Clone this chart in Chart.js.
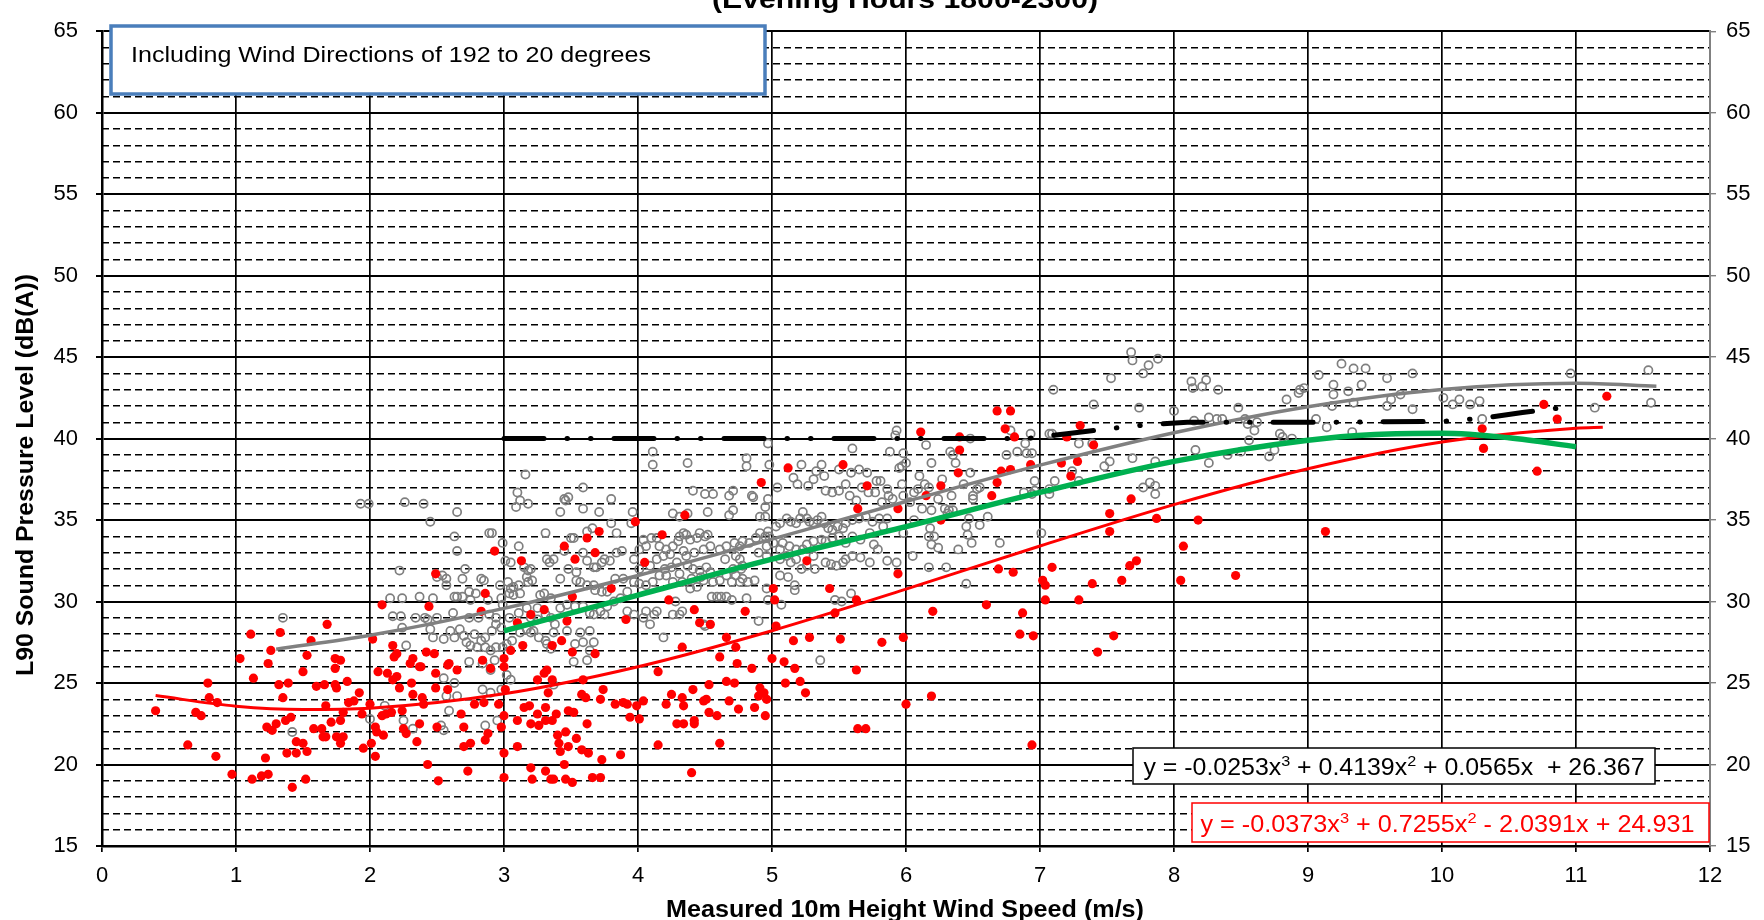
<!DOCTYPE html>
<html>
<head>
<meta charset="utf-8">
<title>L90 vs wind speed</title>
<script src="https://cdn.jsdelivr.net/npm/chart.js@4.4.1/dist/chart.umd.min.js"></script>
<style>
    html, body { margin: 0; padding: 0; background: #ffffff; }
    #wrap { width: 1764px; height: 920px; }
</style>
</head>
<body>
<div id="wrap"><canvas id="noiseChart" width="1764" height="920"></canvas></div>
<script>
// axis ranges
const xRange = [0, 12];
const yRange = [15, 65];

// text
const chartTitle = "(Evening Hours 1800-2300)";
const infoText = "Including Wind Directions of 192 to 20 degrees";
const xTitle = "Measured 10m Height Wind Speed (m/s)";
const yTitle = "L90 Sound Pressure Level (dB(A))";
const greyEquation = [["y = -0.0253x", false], ["3", true], [" + 0.4139x", false], ["2", true], [" + 0.0565x  + 26.367", false]];
const redEquation = [["y = -0.0373x", false], ["3", true], [" + 0.7255x", false], ["2", true], [" - 2.0391x + 24.931", false]];

// measured points, open grey circles [wind speed, L90]
const greyObs = [
    [1.93,36.0],[1.99,36.0],[2.26,36.1],[2.40,36.0],[2.45,34.9],[2.22,31.9],[2.15,30.2],[2.24,30.2],[2.37,30.3],[2.47,30.2],
    [1.35,29.0],[2.17,29.1],[2.23,29.1],[2.34,29.0],[2.41,29.0],[2.50,29.0],[2.24,28.4],[2.45,28.3],[2.47,27.8],[2.27,27.3],
    [2.50,31.5],[2.11,23.6],[2.00,22.8],[2.25,22.7],[2.32,22.2],[1.42,22.0],
    [2.65,35.5],[3.16,37.8],[3.10,36.7],[3.12,36.2],[3.09,35.8],[3.18,36.0],[3.59,37.0],[3.42,35.5],[3.45,36.3],[3.48,36.4],
    [3.46,36.2],[3.59,35.7],[3.71,35.5],[3.80,36.3],[3.96,35.5],[3.80,34.8],[3.95,34.8],
    [2.63,34.0],[2.89,34.2],[2.91,34.2],[2.65,33.1],[2.99,33.6],[3.11,33.4],[3.31,34.2],[3.50,33.9],[3.52,33.9],[3.45,33.1],
    [3.37,32.6],[3.32,32.6],[3.34,32.4],[3.05,32.4],[3.01,32.5],[2.71,32.0],[2.54,31.6],[2.57,31.4],[2.57,31.0],[2.69,31.4],
    [2.83,31.4],[2.85,31.3],[2.97,31.0],[3.03,31.2],[3.05,30.8],[3.07,30.9],[3.11,31.0],[3.12,30.5],[3.17,31.5],[3.18,31.2],
    [3.21,31.3],[3.18,31.9],[3.20,32.0],[3.15,32.1],[3.27,30.4],[3.30,30.5],[3.42,31.4],[3.48,32.0],[3.54,31.8],[3.59,33.0],
    [3.62,32.5],[3.67,32.1],[3.69,32.1],[3.73,32.4],[3.75,32.6],[3.79,32.5],[3.84,33.0],[3.88,33.1],[3.97,32.6],[3.84,34.2],
    [3.62,34.3],[3.66,34.5],
    [2.63,30.3],[2.65,30.3],[2.69,30.3],[2.74,30.6],[2.75,30.1],[2.79,30.5],[2.88,30.1],[2.98,30.2],[2.99,29.8],[3.04,30.5],
    [3.07,30.4],[3.54,31.3],[3.57,31.2],[3.62,31.0],[3.67,31.0],[3.68,30.7],[3.73,30.6],[3.77,30.6],[3.83,31.4],[3.89,31.4],
    [3.92,30.6],[3.97,31.2],
    [2.62,29.3],[2.74,29.0],[2.81,29.0],[2.89,29.2],[2.94,29.0],[2.94,28.6],[2.98,28.4],[2.91,28.2],[2.86,27.8],[2.83,27.6],
    [2.78,28.0],[2.70,27.9],[2.67,28.3],[2.60,28.2],[2.55,27.7],[2.43,28.9],[2.63,27.8],[2.72,27.5],[2.75,27.3],[2.80,27.2],
    [2.86,27.2],[2.90,27.0],[2.94,27.2],[2.99,27.2],[3.02,27.4],[3.06,27.6],[3.12,28.1],[3.17,28.3],[3.20,28.1],[3.22,28.2],
    [3.26,27.8],[3.31,27.6],[3.32,27.4],[3.37,28.1],[3.38,28.6],[3.35,29.0],[3.31,29.2],[3.25,28.9],[3.20,29.0],[3.17,29.6],
    [3.11,29.3],[3.04,29.0],[3.25,29.6],[3.35,30.2],[3.42,29.6],[3.47,29.8],[3.53,29.7],[3.59,29.7],[3.64,29.3],[3.67,29.2],
    [3.72,29.4],[3.75,29.2],[3.77,29.7],[3.82,30.0],[3.87,30.2],[3.92,29.4],[3.97,29.2],[3.47,28.2],[3.53,27.4],[3.59,27.5],
    [3.67,27.5],[3.64,27.0],[3.62,26.4],[3.52,26.3],[3.57,28.1],[3.64,28.2],[3.35,27.1],[2.74,26.3],[2.84,26.2],[2.93,26.4],
    [2.90,25.8],[3.02,25.5],[3.05,25.2],[2.55,25.3],[2.63,25.0],[2.57,24.2],[2.65,24.2],[2.84,24.6],[2.90,24.4],[2.98,24.6],
    [2.59,23.3],[2.53,22.4],[2.55,22.1],[2.86,22.4],[2.95,22.7],[3.37,24.9],
    [4.11,39.2],[4.11,38.4],[4.37,38.5],[4.41,36.8],[4.50,36.6],[4.56,36.6],[4.52,35.5],[4.26,35.4],[4.31,35.2],[4.37,35.4],
    [4.68,36.5],[4.71,36.8],[4.68,35.3],[4.71,35.6],[4.81,38.8],[4.81,38.3],[4.85,36.5],[4.86,36.4],[4.97,39.7],[4.98,38.4],
    [4.97,36.3],[4.95,35.8],[4.91,35.2],[4.95,35.2],[5.04,37.0],[5.16,37.6],[5.19,37.2],[5.22,38.4],[5.27,37.1],[5.31,37.5],
    [5.33,38.0],[5.37,38.4],[5.39,37.7],[5.40,36.8],[5.45,36.7],[5.50,36.8],[5.50,38.1],[5.55,37.2],[5.59,37.9],[5.60,39.4],
    [5.65,38.1],[5.71,37.9],[5.78,37.4],[5.72,36.7],[5.77,36.7],[5.63,36.2],[5.58,36.5],[5.67,37.0],
    [4.01,33.2],[4.06,33.4],[4.04,33.8],[4.10,33.9],[4.14,33.9],[4.16,33.4],[4.21,33.2],[4.19,32.8],[4.24,32.9],[4.26,33.4],
    [4.30,33.7],[4.31,34.0],[4.34,34.2],[4.36,34.1],[4.39,33.8],[4.44,33.9],[4.46,34.2],[4.50,34.0],[4.52,34.1],[4.54,33.4],
    [4.49,33.2],[4.42,33.0],[4.36,32.8],[4.34,33.1],[4.29,32.4],[4.25,32.1],[4.20,32.0],[4.16,31.6],[4.11,31.2],[4.06,31.0],
    [4.01,31.1],[4.01,32.0],[4.09,32.2],[4.14,32.6],[4.37,32.2],[4.41,32.0],[4.46,31.9],[4.51,32.1],[4.54,31.8],[4.47,31.5],
    [4.40,31.4],[4.33,31.2],[4.26,31.2],[4.21,31.6],[4.31,31.7],[4.39,30.8],[4.44,30.9],[4.49,31.3],[4.56,31.2],[4.61,31.3],
    [4.66,31.6],[4.70,31.2],[4.73,31.6],[4.76,31.2],[4.78,31.4],[4.82,31.2],[4.87,31.3],[4.77,32.0],[4.71,32.0],[4.78,32.2],
    [4.76,32.6],[4.73,32.8],[4.65,32.6],[4.61,33.2],[4.66,33.4],[4.72,33.6],[4.76,33.4],[4.78,33.7],[4.83,33.6],[4.88,33.9],
    [4.91,34.2],[4.95,34.0],[4.97,34.3],[4.98,34.0],[5.03,34.6],[5.06,34.8],[5.11,35.1],[5.14,34.9],[5.18,34.8],[5.21,35.1],
    [5.23,35.5],[5.26,35.1],[5.28,34.9],[5.31,34.8],[5.34,35.0],[5.37,35.2],[5.39,34.8],[5.42,34.5],[5.45,34.4],[5.49,34.6],
    [5.53,34.5],[5.55,34.8],[5.60,35.0],[5.65,35.1],[5.70,35.2],[5.75,34.9],[5.80,35.1],[5.73,34.2],[5.66,33.8],[5.60,34.0],
    [5.55,33.6],[5.50,34.0],[5.45,33.9],[5.40,33.7],[5.37,33.8],[5.31,33.7],[5.26,33.5],[5.23,33.2],[5.18,33.2],[5.13,33.4],
    [5.08,33.6],[5.06,33.2],[5.01,33.6],[4.96,33.4],[4.90,33.0],[4.96,32.8],[5.06,32.6],[5.11,32.8],[5.14,32.4],[5.18,32.6],
    [5.22,32.0],[5.26,32.2],[5.31,32.8],[5.32,32.0],[5.40,32.4],[5.44,32.3],[5.48,32.2],[5.53,32.4],[5.55,32.6],[5.60,32.8],
    [5.66,32.7],[5.73,32.4],[5.76,33.5],[5.79,33.2],[5.06,31.6],[5.12,31.5],[5.17,31.0],[5.17,30.7],[4.96,30.8],[4.97,30.1],
    [4.59,30.3],[4.62,30.3],[4.66,30.3],[4.70,30.1],[4.55,30.3],[4.28,30.0],[4.33,29.4],[4.31,29.2],[4.26,29.2],[4.14,29.4],
    [4.12,29.2],[4.06,29.4],[4.04,29.0],[4.09,28.6],[4.19,27.8],[4.50,28.5],[4.49,28.6],[4.81,30.2],[5.07,29.8],[5.47,30.1],
    [5.52,30.0],[5.59,30.5],[4.90,28.8],[5.36,26.4],
    [5.92,40.2],[5.93,40.5],[5.88,39.2],[5.98,39.1],[5.95,38.2],[5.97,38.3],[6.00,38.5],[6.15,39.6],[6.19,38.5],[6.37,38.5],
    [6.33,39.2],[6.35,39.0],[6.48,40.0],[6.48,37.9],[6.27,37.5],[6.10,37.7],[6.14,37.2],[6.17,37.0],[6.09,36.9],[5.97,37.2],
    [5.98,36.5],[5.86,36.9],[5.87,36.5],[5.90,36.3],[5.82,36.1],[5.81,37.4],[6.06,36.7],[6.03,36.1],[6.12,35.7],[6.19,35.6],
    [6.24,36.3],[6.34,36.5],[6.43,37.2],[6.50,36.5],[6.53,36.9],[6.55,37.0],[6.50,36.3],[6.29,35.7],[6.32,35.6],[6.31,35.4],
    [6.35,35.6],[6.47,35.1],[6.45,34.6],[6.55,34.7],[6.61,35.2],[5.86,35.1],[5.83,34.6],[5.98,34.2],[6.06,35.0],[6.18,34.5],
    [6.21,34.0],[6.19,33.5],[6.24,33.3],[6.17,34.0],[6.46,34.1],[6.49,33.6],[6.39,33.2],[6.05,32.8],[5.86,32.5],[5.93,32.4],
    [6.17,32.1],[6.30,32.1],[6.45,31.1],[6.70,33.6],[7.01,34.2],[6.75,39.0],[6.83,39.2],[6.90,39.1],[6.94,39.1],[6.89,39.7],
    [6.93,40.3],[6.78,40.5],[6.96,37.4],[6.88,36.7],[6.94,36.6],[6.96,36.8],[7.07,40.3],[7.09,40.3],[7.10,43.0],[7.11,37.4],
    [7.07,36.9],[7.07,36.6],[7.29,39.7],[7.24,38.0],[7.29,37.4],[7.39,39.7],[7.40,42.1],[7.48,38.3],[7.52,38.6],[7.53,43.7],
    [7.69,38.8],[7.68,45.3],[7.69,44.8],[7.77,44.0],[7.81,44.5],[7.88,44.9],[7.74,41.9],[7.86,38.6],[7.82,37.3],[7.77,37.0],
    [7.86,37.1],[7.86,36.6],[8.00,41.7],[8.13,43.5],[8.14,43.1],[8.15,41.1],[8.16,39.3],
    [8.21,43.2],[8.24,43.6],[8.33,43.0],[8.48,41.9],[8.26,41.3],[8.32,41.2],[8.36,41.2],[8.53,41.2],[8.55,40.9],[8.62,41.0],
    [8.60,40.5],[8.56,39.9],[8.50,39.2],[8.26,38.5],[8.40,39.0],[8.71,38.9],[8.75,39.3],[8.79,40.3],[8.81,40.1],[8.88,40.0],
    [8.84,42.4],[8.93,42.8],[8.94,43.0],[8.97,43.1],[9.08,43.9],[9.06,41.2],[9.14,40.7],[9.19,43.3],[9.19,42.7],[9.25,44.6],
    [9.30,42.9],[9.34,44.3],[9.34,42.2],[9.40,43.3],[9.43,44.3],[9.33,40.4],[9.18,42.0],[9.59,43.7],[9.59,42.0],[9.62,42.4],
    [9.69,42.7],[9.78,44.0],[9.78,41.8],[10.01,42.5],[10.08,42.1],[10.13,42.4],[10.21,42.1],[10.28,42.3],[10.30,41.2],
    [10.96,44.0],[11.14,41.9],[11.54,44.2],[11.56,42.2]
];

// measured points, filled red dots [wind speed, L90]
const redObs = [
    [0.40,23.3],[0.64,21.2],[0.70,23.2],[0.74,23.0],[0.79,25.0],[0.80,24.1],[0.85,20.5],[0.86,23.8],[0.97,19.4],[1.03,26.5],
    [1.11,28.0],[1.13,25.3],[1.12,19.1],[1.19,19.3],[1.22,20.4],[1.24,19.4],[1.24,26.2],[1.26,27.0],[1.23,22.3],[1.27,22.1],
    [1.30,22.5],[1.32,24.9],[1.33,28.1],[1.35,24.1],[1.39,25.0],[1.37,22.7],[1.41,22.9],[1.38,20.7],[1.42,18.6],[1.45,20.7],
    [1.45,21.4],[1.50,21.3],[1.50,25.7],[1.52,19.1],[1.53,26.7],[1.53,20.8],[1.56,27.6],[1.58,22.2],[1.60,24.8],[1.64,22.2],
    [1.65,21.7],[1.67,21.7],[1.66,24.9],[1.67,23.6],[1.68,28.6],[1.71,22.6],[1.74,24.9],[1.74,26.5],[1.75,24.7],[1.78,26.4],
    [1.74,25.9],[1.75,21.7],[1.78,21.3],[1.78,22.7],[1.80,21.7],[1.80,23.2],[1.83,25.1],[1.84,23.8],[1.88,23.9],[1.92,24.4],
    [1.94,23.1],[1.95,21.0],[2.01,21.3],[2.00,23.7],[2.02,27.7],[2.04,20.5],[2.04,22.3],[2.05,22.0],[2.06,25.7],[2.09,29.8],
    [2.10,21.8],[2.09,23.0],[2.12,23.1],[2.13,25.6],[2.16,23.2],[2.17,27.3],[2.17,25.2],[2.18,26.6],[2.20,26.8],[2.20,25.4],
    [2.22,24.7],[2.24,23.3],[2.25,22.2],[2.27,21.9],[2.30,26.2],[2.32,26.5],[2.31,25.0],[2.32,24.3],[2.35,21.4],[2.37,22.5],
    [2.37,26.0],[2.39,24.1],[2.40,23.7],[2.42,26.9],[2.44,29.7],[2.43,20.0],[2.48,26.8],[2.49,31.7],[2.49,25.6],[2.51,19.0],
    [2.50,22.3],[2.49,24.7],
    [3.13,32.5],[2.93,33.1],[2.86,30.5],[2.83,29.4],[3.10,28.7],[3.20,29.2],[3.30,29.5],[3.53,32.6],[3.45,33.4],[3.62,33.9],
    [3.71,34.3],[3.68,33.0],[3.98,34.9],[3.80,30.8],[3.51,30.3],[3.91,28.9],[3.47,28.8],[3.43,27.6],[3.51,26.9],[3.68,26.8],
    [3.36,27.3],[3.14,27.3],[3.05,27.0],[3.00,26.5],[2.38,26.0],[2.58,26.1],[2.65,25.8],[2.59,26.2],[2.84,26.4],[2.90,25.9],
    [3.00,26.0],[3.25,25.2],[3.30,25.6],[3.32,25.8],[3.36,25.2],[3.33,24.4],[3.59,25.2],[3.58,24.3],[3.61,24.1],[3.74,24.6],
    [3.72,24.0],[3.83,23.7],[3.89,23.8],[3.92,23.7],[3.99,23.6],[3.94,22.9],[2.58,24.6],[2.78,23.7],[2.68,23.1],[2.85,23.8],
    [2.96,23.7],[3.01,24.6],[3.10,22.7],[3.15,23.5],[3.19,23.6],[3.25,23.1],[3.20,22.5],[3.26,22.4],[3.31,22.7],[3.36,22.7],
    [3.39,23.1],[3.31,23.5],[3.48,23.3],[3.52,23.2],[3.62,22.5],[3.46,22.0],[3.54,21.6],[3.40,21.8],[3.41,21.3],[3.48,21.1],
    [3.58,20.9],[3.63,20.7],[3.73,20.3],[3.87,20.6],[3.45,20.0],[3.42,20.8],[3.00,20.7],[3.00,23.0],[3.10,21.1],[2.98,22.3],
    [2.88,21.9],[2.86,21.5],[2.70,22.3],[2.75,21.3],[2.70,21.1],[2.73,19.6],[3.00,19.2],[3.20,19.8],[3.21,19.1],[3.31,19.6],
    [3.35,19.1],[3.37,19.1],[3.46,19.1],[3.51,18.9],[3.66,19.2],[3.72,19.2],
    [4.18,34.1],[4.35,35.3],[4.05,32.4],[4.92,37.3],[5.12,38.2],[5.53,38.4],[5.71,37.1],[5.64,35.7],[5.26,32.5],[5.43,30.8],
    [5.63,30.1],[5.01,30.8],[5.02,30.1],[4.80,29.4],[4.23,30.1],[4.42,29.5],[4.46,28.7],[4.54,28.6],[4.66,27.8],[4.73,27.2],
    [4.33,27.2],[4.61,26.6],[4.74,26.2],[4.85,25.9],[5.00,26.5],[5.09,26.3],[5.17,25.9],[5.03,28.5],[5.16,27.6],[5.28,27.8],
    [5.51,27.7],[5.47,29.3],[5.63,25.8],[4.15,25.7],[5.10,25.0],[5.21,25.1],[5.25,24.4],[4.53,24.9],[4.66,25.1],[4.72,25.0],
    [4.41,24.6],[4.33,24.1],[4.25,24.3],[4.21,23.7],[4.04,23.9],[4.01,22.8],[4.34,23.6],[4.49,23.9],[4.51,24.0],[4.68,23.9],
    [4.75,23.4],[4.87,23.5],[4.91,24.7],[4.94,24.4],[4.96,24.0],[4.90,24.2],[4.95,23.0],[4.53,23.2],[4.59,23.0],[4.29,22.5],
    [4.34,22.5],[4.42,22.7],[4.42,22.5],[4.61,21.3],[4.15,21.2],[4.40,19.5],[5.64,22.2],[5.70,22.2],
    [6.11,40.4],[6.40,40.1],[6.40,39.3],[6.39,37.9],[6.26,37.1],[6.15,36.5],[5.94,35.7],[6.26,35.0],[6.68,41.7],[6.78,41.7],
    [6.74,40.6],[6.81,40.1],[6.93,38.4],[6.71,38.0],[6.78,38.1],[6.68,37.3],[6.64,36.5],[7.30,40.8],[7.20,40.1],[7.40,39.6],
    [7.16,38.5],[7.28,38.6],[7.23,37.7],[7.52,35.4],[7.52,34.3],[7.68,36.3],[7.87,35.1],[5.94,31.7],[6.20,29.4],[5.98,27.8],
    [5.82,27.5],[6.69,32.0],[6.80,31.8],[6.60,29.8],[6.87,29.3],[6.85,28.0],[6.95,27.9],[7.02,31.3],[7.04,31.0],[7.09,32.1],
    [7.04,30.1],[7.29,30.1],[7.39,31.1],[7.61,31.3],[7.67,32.2],[7.72,32.5],[7.55,27.9],[7.43,26.9],[8.05,31.3],[8.07,33.4],
    [8.18,35.0],[6.00,23.7],[6.19,24.2],[6.94,21.2],
    [8.46,31.6],[9.13,34.3],[10.30,40.6],[10.31,39.4],[10.76,42.1],[10.86,41.2],[10.71,38.0],[11.23,42.6]
];

// trend lines
const greyTrendX = [1.3, 2, 3, 4, 5, 6, 7, 8, 9, 10, 11, 11.6];
const greyTrendY = [27.08, 27.93, 29.58, 31.60, 33.83, 36.14, 38.37, 40.36, 41.96, 43.02, 43.40, 43.22];
const redTrendX = [0.4, 1, 1.5, 2, 3, 4, 5, 6, 7, 8, 9, 10, 11, 11.2];
const redTrendY = [24.23, 23.58, 23.38, 23.46, 24.34, 26.00, 28.21, 30.76, 33.41, 35.95, 38.15, 39.79, 40.64, 40.70];
const greenX = [3, 4, 5, 6, 7, 8, 9, 9.5, 10, 10.5, 11];
const greenY = [28.2, 30.4, 32.6, 34.6, 36.7, 38.6, 39.9, 40.25, 40.33, 40.05, 39.5];
const limitX = [3, 4, 5, 6, 6.9, 7.2, 7.5, 7.8, 8.1, 9, 10, 10.3, 10.6, 11];
const limitY = [40, 40, 40, 40, 40, 40.3, 40.6, 40.85, 41.0, 41.0, 41.05, 41.25, 41.6, 42.0];

const FONT = '"Liberation Sans", Arial, Helvetica, sans-serif';

function toPoints(xs, ys) {
    return xs.map(function (x, i) { return { x: x, y: ys[i] }; });
}

function pairsToPoints(pairs) {
    return pairs.map(function (p) { return { x: p[0], y: p[1] }; });
}

// draws a run of text (with optional superscripts) squeezed/stretched to a width
function fitText(ctx, parts, x, y, width, size, weight, color) {
    const supSize = Math.round(size * 0.64);
    ctx.save();
    ctx.textBaseline = "alphabetic";
    ctx.textAlign = "left";
    const widths = parts.map(function (p) {
        ctx.font = weight + " " + (p[1] ? supSize : size) + "px " + FONT;
        return ctx.measureText(p[0]).width;
    });
    const total = widths.reduce(function (a, b) { return a + b; }, 0);
    ctx.translate(x, y);
    ctx.scale(width / total, 1);
    ctx.fillStyle = color;
    let cx = 0;
    parts.forEach(function (p, i) {
        ctx.font = weight + " " + (p[1] ? supSize : size) + "px " + FONT;
        ctx.fillText(p[0], cx, p[1] ? -size * 0.38 : 0);
        cx += widths[i];
    });
    ctx.restore();
}

function framedBox(ctx, x, y, w, h, stroke, lineWidth) {
    ctx.save();
    ctx.fillStyle = "#ffffff";
    ctx.fillRect(x, y, w, h);
    ctx.strokeStyle = stroke;
    ctx.lineWidth = lineWidth;
    ctx.strokeRect(x, y, w, h);
    ctx.restore();
}

const labelsPlugin = {
    id: "labels",
    afterDraw: function (chart) {
        const ctx = chart.ctx;

        fitText(ctx, [[chartTitle, false]], 712, 8, 386, 26, "bold", "#000000");

        framedBox(ctx, 111, 26, 654, 68, "#4a7ebb", 3.5);
        fitText(ctx, [[infoText, false]], 131, 62, 520, 22, "normal", "#000000");

        framedBox(ctx, 1133, 748, 522, 36, "#000000", 1.5);
        fitText(ctx, greyEquation, 1143.5, 775, 501, 23, "normal", "#000000");

        framedBox(ctx, 1192, 803, 517, 39, "#ff0000", 1.5);
        fitText(ctx, redEquation, 1200.5, 832, 494, 23, "normal", "#ff0000");

        fitText(ctx, [[xTitle, false]], 666, 917, 478, 23, "bold", "#000000");

        ctx.save();
        ctx.translate(33, 676);
        ctx.rotate(-Math.PI / 2);
        fitText(ctx, [[yTitle, false]], 0, 0, 402, 24, "bold", "#000000");
        ctx.restore();
    }
};

document.addEventListener("DOMContentLoaded", function () {
    const canvas = document.getElementById("noiseChart");

    new Chart(canvas, {
        type: "scatter",
        data: {
            datasets: [
                {
                    label: "Limit",
                    data: toPoints(limitX, limitY),
                    showLine: true,
                    borderColor: "#000000",
                    borderWidth: 5,
                    borderDash: [40, 23, 0.5, 23, 0.5, 23],
                    borderCapStyle: "round",
                    pointRadius: 0,
                    tension: 0,
                    order: 0
                },
                {
                    label: "Derived",
                    data: toPoints(greenX, greenY),
                    showLine: true,
                    borderColor: "#00b050",
                    borderWidth: 5.5,
                    pointRadius: 0,
                    cubicInterpolationMode: "monotone",
                    order: 1
                },
                {
                    label: "Red trend",
                    data: toPoints(redTrendX, redTrendY),
                    showLine: true,
                    borderColor: "#ff0000",
                    borderWidth: 3,
                    pointRadius: 0,
                    cubicInterpolationMode: "monotone",
                    order: 2
                },
                {
                    label: "Grey trend",
                    data: toPoints(greyTrendX, greyTrendY),
                    showLine: true,
                    borderColor: "#808080",
                    borderWidth: 3.5,
                    pointRadius: 0,
                    cubicInterpolationMode: "monotone",
                    order: 3
                },
                {
                    label: "Red data",
                    data: pairsToPoints(redObs),
                    pointRadius: 4.6,
                    pointBorderWidth: 0,
                    backgroundColor: "#ff0000",
                    borderColor: "#ff0000",
                    order: 4
                },
                {
                    label: "Grey data",
                    data: pairsToPoints(greyObs),
                    pointRadius: 4.1,
                    pointBorderWidth: 1.7,
                    borderColor: "#7f7f7f",
                    backgroundColor: "rgba(0,0,0,0)",
                    order: 5
                }
            ]
        },
        options: {
            responsive: false,
            animation: false,
            devicePixelRatio: 1,
            layout: { padding: { top: 16, right: 0, bottom: 0, left: 0 } },
            plugins: {
                legend: { display: false },
                tooltip: { enabled: false }
            },
            scales: {
                x: {
                    type: "linear",
                    position: "bottom",
                    min: xRange[0],
                    max: xRange[1],
                    ticks: {
                        stepSize: 1,
                        color: "#000000",
                        padding: 11,
                        font: { family: FONT, size: 22 }
                    },
                    grid: {
                        color: function (c) {
                            if (!c.tick) return "#000000";
                            return (c.tick.value === xRange[0] || c.tick.value === xRange[1]) ? "rgba(0,0,0,0)" : "#000000";
                        },
                        lineWidth: 1.7,
                        tickLength: 6,
                        tickColor: "#000000",
                        tickWidth: 1.7
                    },
                    border: { color: "#000000", width: 2.5 },
                    afterFit: function (s) { s.height = 74; }
                },
                y: {
                    position: "left",
                    min: yRange[0],
                    max: yRange[1],
                    ticks: {
                        stepSize: 5,
                        color: "#000000",
                        padding: 18,
                        font: { family: FONT, size: 22 }
                    },
                    grid: {
                        color: "#000000",
                        lineWidth: 2,
                        tickLength: 6,
                        tickColor: "#000000"
                    },
                    border: { color: "#000000", width: 2.5 },
                    afterFit: function (s) { s.width = 102; }
                },
                y2: {
                    position: "right",
                    min: yRange[0],
                    max: yRange[1],
                    ticks: {
                        stepSize: 1,
                        autoSkip: false,
                        color: "#000000",
                        padding: 10,
                        font: { family: FONT, size: 22 },
                        callback: function (v) { return v % 5 === 0 ? v : ""; }
                    },
                    grid: {
                        color: function (c) {
                            if (!c.tick) return "#000000";
                            return c.tick.value % 5 === 0 ? "rgba(0,0,0,0)" : "#000000";
                        },
                        lineWidth: 1.4,
                        tickLength: 6,
                        tickColor: function (c) {
                            if (!c.tick) return "#808080";
                            return c.tick.value % 5 === 0 ? "#808080" : "rgba(0,0,0,0)";
                        }
                    },
                    border: { color: "#808080", width: 2, dash: [7, 4] },
                    afterFit: function (s) { s.width = 54; }
                }
            }
        },
        plugins: [labelsPlugin]
    });
});
</script>
</body>
</html>
